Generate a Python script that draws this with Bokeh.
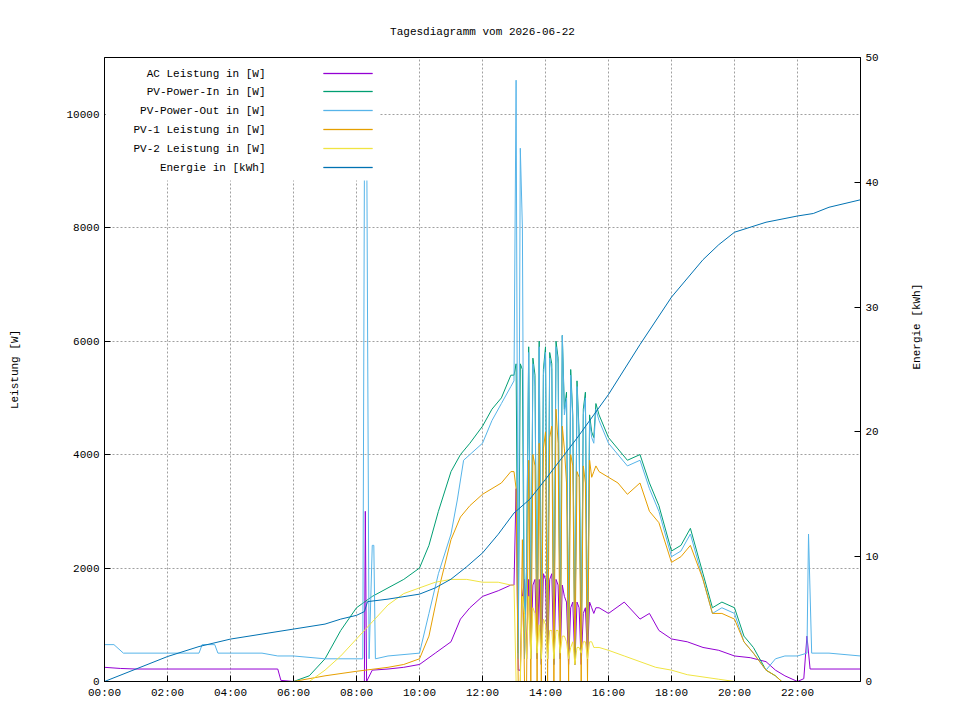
import math
from bokeh.plotting import figure
from bokeh.models import Range1d, LinearAxis, FixedTicker, BoxAnnotation, Label, Title
from bokeh.embed import file_html
from bokeh.resources import INLINE

FONT = "Liberation Mono"
title_text = "Tagesdiagramm vom 2026-06-22"
xticks = [0, 2, 4, 6, 8, 10, 12, 14, 16, 18, 20, 22]
xtick_labels = ["00:00", "02:00", "04:00", "06:00", "08:00", "10:00", "12:00", "14:00", "16:00", "18:00", "20:00", "22:00"]

# oscillating window 13:00-15:36, 4 min steps
osc_t = [13 + i * 4 / 60 for i in range(40)]
osc_out = [5300,10600,400,9400,8000,400,2000,5800,400,5600,5200,400,5900,300,5400,5800,400,5700,5500,300,
           5900,5600,400,6100,4700,5000,400,5400,4600,300,5200,4300,400,4700,5000,400,4600,4300,4200,4800]
osc_in = [5400,5600,500,5600,5500,500,2100,5900,500,5700,5400,500,6000,400,5500,5900,500,5800,5600,400,
          6000,5700,500,6100,4800,5100,500,5500,4700,400,5300,4400,500,4800,5100,500,4700,4400,4300,4900]
osc_pv1 = [3700,3400,0,0,2500,0,0,3900,0,4000,3800,0,4200,0,4100,4400,0,4300,4500,0,
           4800,4200,0,4500,4100,3500,0,4000,3800,300,3700,3600,0,3800,3500,0,3900,3600,3700,3800]
osc_pv2 = [1700,0,0,0,1500,1200,400,1500,400,1300,1200,500,1000,400,1100,1000,400,900,900,400,
           900,900,500,800,800,700,400,600,700,300,600,600,500,700,700,400,700,700,600,600]
osc_ac = [1700,3400,200,200,1500,1800,400,1800,400,1700,1800,400,1800,300,1900,1800,400,1800,1900,300,
          1800,1700,400,1700,1500,1400,300,1300,1400,300,1400,1300,300,1200,1300,400,1400,1300,1200,1300]

ac_t = [0, 0.5, 1, 2, 3, 4, 5, 5.5, 5.6, 6, 7, 8, 8.25, 8.28, 8.32, 8.5, 9, 9.5, 10, 10.5, 11, 11.3, 11.6, 12, 12.5, 12.9]
ac_v = [250, 230, 220, 220, 220, 220, 220, 220, 20, 0, 0, 0, 0, 3000, 0, 200, 220, 250, 300, 500, 700, 1100, 1300, 1500, 1600, 1700]
ac_t2 = [15.7, 16, 16.5, 17, 17.3, 17.6, 18, 18.5, 19, 19.5, 20, 20.5, 21, 21.3, 21.6, 22, 22.2, 22.3, 22.4, 23, 24]
ac_v2 = [1300, 1200, 1400, 1100, 1200, 900, 750, 700, 600, 550, 450, 420, 350, 200, 100, 0, 50, 800, 220, 220, 220]

out_t = [0, 0.3, 0.6, 1, 2, 3, 3.1, 3.5, 3.6, 4, 5, 5.5, 6, 7, 8, 8.2, 8.25, 8.33, 8.4, 8.5, 8.55, 8.6, 9, 10, 10.3, 10.6, 11, 11.2, 11.4, 11.6, 12, 12.3, 12.6, 12.9]
out_v = [650, 650, 500, 500, 500, 500, 650, 650, 500, 500, 500, 450, 450, 400, 400, 400, 8900, 8900, 400, 2400, 2400, 400, 450, 500, 1200, 1900, 2600, 3200, 3900, 4000, 4200, 4600, 4900, 5200]
out_t2 = [15.7, 16, 16.3, 16.6, 17, 17.3, 17.6, 18, 18.3, 18.6, 19, 19.3, 19.6, 20, 20.3, 20.6, 21, 21.3, 21.6, 22, 22.3, 22.35, 22.45, 23, 24]
out_v2 = [4600, 4200, 4000, 3800, 3900, 3400, 3000, 2200, 2300, 2600, 1800, 1200, 1300, 1200, 700, 500, 200, 400, 450, 450, 500, 2600, 500, 500, 450]

in_t = [0, 6, 6.5, 7, 7.5, 8, 8.5, 9, 9.5, 10, 10.3, 10.6, 11, 11.3, 11.6, 12, 12.3, 12.6, 12.9]
in_v = [0, 0, 100, 400, 900, 1300, 1500, 1650, 1800, 2000, 2400, 3000, 3700, 4000, 4200, 4500, 4800, 5000, 5400]
in_t2 = [15.7, 16, 16.3, 16.6, 17, 17.3, 17.6, 18, 18.3, 18.6, 19, 19.3, 19.6, 20, 20.3, 20.6, 21, 21.3, 21.5]
in_v2 = [4700, 4300, 4100, 3900, 4000, 3500, 3100, 2300, 2400, 2700, 1900, 1300, 1400, 1300, 800, 600, 200, 100, 0]

pv1_t = [0, 6, 7, 8, 9, 9.5, 10, 10.3, 10.6, 11, 11.3, 11.6, 12, 12.3, 12.6, 12.9]
pv1_v = [0, 0, 100, 180, 250, 300, 400, 800, 1600, 2500, 2900, 3100, 3300, 3400, 3500, 3700]
pv1_t2 = [15.7, 16, 16.3, 16.6, 17, 17.3, 17.6, 18, 18.3, 18.6, 19, 19.3, 19.6, 20, 20.3, 20.6, 21, 21.3, 21.5]
pv1_v2 = [3700, 3600, 3500, 3300, 3500, 3000, 2800, 2100, 2200, 2400, 1800, 1200, 1200, 1100, 700, 500, 200, 100, 0]

pv2_t = [0, 6.5, 7, 7.5, 8, 8.5, 9, 9.5, 10, 10.5, 11, 11.5, 12, 12.5, 12.9]
pv2_v = [0, 0, 200, 450, 750, 1050, 1350, 1550, 1650, 1750, 1800, 1800, 1750, 1750, 1700]
pv2_t2 = [15.7, 16, 16.5, 17, 17.5, 18, 18.5, 19, 19.5, 20, 24]
pv2_v2 = [600, 550, 450, 350, 250, 200, 120, 80, 40, 0, 0]

en_t = [0, 1, 2, 3, 4, 5, 6, 7, 7.5, 8, 8.25, 8.35, 9, 10, 10.5, 11, 11.5, 12, 12.5, 13, 13.5, 14, 15, 16, 17, 18, 19, 19.5, 20, 21, 22, 22.5, 23, 24]
en_v = [0, 1.0, 2.0, 2.8, 3.4, 3.8, 4.2, 4.6, 5.0, 5.3, 5.6, 6.4, 6.6, 7.0, 7.5, 8.2, 9.2, 10.3, 11.8, 13.5, 14.6, 16.2, 19.5, 23.0, 27.0, 30.8, 33.8, 35.0, 36.0, 36.8, 37.3, 37.5, 38.0, 38.6]

C_AC, C_IN, C_OUT, C_PV1, C_PV2, C_EN = "#9400D3", "#009E73", "#56B4E9", "#E69F00", "#F0E442", "#0072B2"

W, Hh = 958, 718
L, R, T, B = 104, 98, 57, 37
H = Hh - T - B
FW = W - L - R

p = figure(width=W, height=Hh, output_backend="svg", toolbar_location=None,
           x_range=Range1d(0, 24), y_range=Range1d(0, 11000),
           min_border_left=L, min_border_right=R, min_border_top=T, min_border_bottom=B)
p.title = Title(text=title_text, align="center", text_font=FONT, text_font_size="11px",
                text_font_style="normal", offset=0, text_color="black")
p.title.standoff = 40
p.extra_y_ranges = {"e": Range1d(0, 50)}
p.outline_line_color = "black"
p.outline_line_alpha = 1

p.line(ac_t + osc_t + ac_t2, ac_v + osc_ac + ac_v2, color=C_AC, line_width=1)
p.line(in_t + osc_t + in_t2, in_v + osc_in + in_v2, color=C_IN, line_width=1)
p.line(out_t + osc_t + out_t2, out_v + osc_out + out_v2, color=C_OUT, line_width=1)
p.line(pv1_t + osc_t + pv1_t2, pv1_v + osc_pv1 + pv1_v2, color=C_PV1, line_width=1)
p.line(pv2_t + osc_t + pv2_t2, pv2_v + osc_pv2 + pv2_v2, color=C_PV2, line_width=1)
p.line(en_t, en_v, color=C_EN, line_width=1, y_range_name="e")

def style(ax):
    ax.major_label_text_font = FONT
    ax.major_label_text_font_size = "11px"
    ax.major_label_text_color = "black"
    ax.axis_label_text_font = FONT
    ax.axis_label_text_font_size = "11px"
    ax.axis_label_text_font_style = "normal"
    ax.axis_label_text_color = "black"
    ax.minor_tick_line_color = None
    ax.major_tick_in = 6
    ax.major_tick_out = 0
    ax.axis_line_color = "black"
    ax.major_tick_line_color = "black"

style(p.xaxis[0]); style(p.yaxis[0])
p.xaxis.ticker = FixedTicker(ticks=xticks)
p.xaxis.major_label_overrides = {t: l for t, l in zip(xticks, xtick_labels)}
p.yaxis.ticker = FixedTicker(ticks=[0, 2000, 4000, 6000, 8000, 10000])
p.yaxis.axis_label = "Leistung [W]"
p.yaxis.axis_label_standoff = 42

ra = LinearAxis(y_range_name="e", ticker=FixedTicker(ticks=[0, 10, 20, 30, 40, 50]),
                axis_label="Energie [kWh]")
style(ra)
ra.axis_label_standoff = 35
if "axis_label_orientation" in ra.properties():
    ra.axis_label_orientation = math.pi / 2
p.add_layout(ra, "right")

p.grid.grid_line_color = "#a0a0a0"
p.grid.grid_line_dash = "2 2"
p.xgrid.ticker = FixedTicker(ticks=xticks)
p.ygrid.ticker = FixedTicker(ticks=[2000, 4000, 6000, 8000, 10000])

# legend box (screen units)
p.add_layout(BoxAnnotation(left=1, right=275, top=H - 1, bottom=H - 123, left_units="screen", right_units="screen",
                           top_units="screen", bottom_units="screen", fill_color="white", fill_alpha=1,
                           line_color=None, level="overlay"))
names = ["AC Leistung in [W]", "PV-Power-In in [W]", "PV-Power-Out in [W]", "PV-1 Leistung in [W]",
         "PV-2 Leistung in [W]", "Energie in [kWh]"]
cols = [C_AC, C_IN, C_OUT, C_PV1, C_PV2, C_EN]
rows_y = [73, 91, 110, 129, 148, 167]
for n, c, y in zip(names, cols, rows_y):
    sy = H - (y - T)
    p.add_layout(Label(x=161, y=sy, x_units="screen", y_units="screen", text=n, text_align="right",
                       text_baseline="middle", text_font=FONT, text_font_size="11px", text_color="black",
                       level="overlay"))
    p.add_layout(BoxAnnotation(left=219, right=268, top=sy + 0.5, bottom=sy - 0.5, left_units="screen",
                               right_units="screen", top_units="screen", bottom_units="screen",
                               fill_color=c, fill_alpha=1, line_color=c, level="overlay"))

open("out.html", "w").write(file_html(p, INLINE))
